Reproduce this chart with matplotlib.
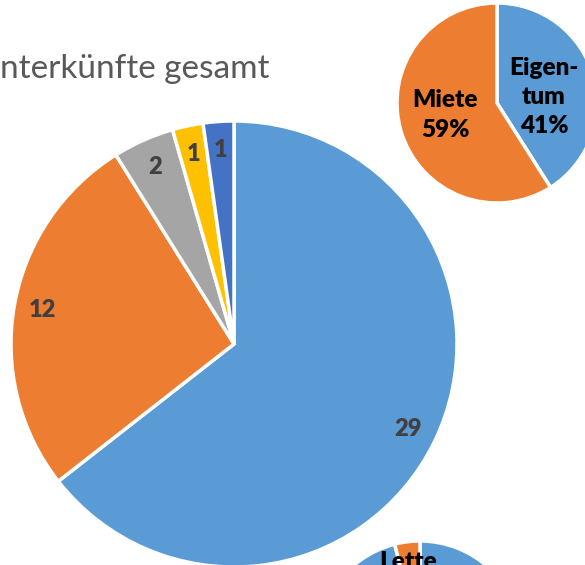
import matplotlib
matplotlib.use("Agg")
import matplotlib.pyplot as plt

plt.rcParams['font.family'] = ['Lato', 'DejaVu Sans']

W, H = 585, 565
DPI = 100

# Data
title_text = "nterkünfte gesamt"
main_values = [29, 12, 2, 1, 1]
main_labels = ["29", "12", "2", "1", "1"]
main_colors = ["#5B9BD5", "#ED7D31", "#A5A5A5", "#FFC000", "#4472C4"]

own_values = [41, 59]
own_labels = ["Eigen-\ntum\n41%", "Miete\n59%"]
own_colors = ["#5B9BD5", "#ED7D31"]

bottom_values = [96, 4]
bottom_colors = ["#5B9BD5", "#ED7D31"]
bottom_label = "Lette"

fig = plt.figure(figsize=(W / DPI, H / DPI), dpi=DPI)


def pie_axes(cx, cy, r):
    left = (cx - r) / W
    bottom = (H - (cy + r)) / H
    return fig.add_axes([left, bottom, 2 * r / W, 2 * r / H])


# Main pie
ax = pie_axes(234, 344, 223)
wedges, texts = ax.pie(main_values, colors=main_colors, startangle=90, counterclock=False,
                       labels=main_labels, labeldistance=0.87,
                       wedgeprops=dict(edgecolor="white", linewidth=2.5))
for t in texts:
    t.set_ha("center"); t.set_va("center")
    t.set_fontsize(17); t.set_fontweight("heavy"); t.set_color("#404040")
ax.set_xlim(-1, 1); ax.set_ylim(-1, 1)
ax.axis("off")

# Ownership pie
ax2 = pie_axes(497, 103, 100)
wedges2, texts2 = ax2.pie(own_values, colors=own_colors, startangle=90, counterclock=False,
                          labels=own_labels, labeldistance=0.5,
                          wedgeprops=dict(edgecolor="white", linewidth=2.5))
for t in texts2:
    t.set_ha("center"); t.set_va("center"); t.set_multialignment("center")
    t.set_fontsize(17.5); t.set_fontweight("heavy"); t.set_color("black")
    t.set_linespacing(1.4)
texts2[0].set_position((0.47, 0.06))
texts2[1].set_position((-0.52, -0.12))
ax2.set_xlim(-1, 1); ax2.set_ylim(-1, 1)
ax2.axis("off")

# Bottom pie (mostly cut off)
ax3 = pie_axes(420, 643, 102)
ax3.pie(bottom_values, colors=bottom_colors, startangle=90, counterclock=False,
        wedgeprops=dict(edgecolor="white", linewidth=2.5))
ax3.set_xlim(-1, 1); ax3.set_ylim(-1, 1)
ax3.axis("off")
fig.text(408 / W, 1 - 551 / H, bottom_label, ha="center", va="top",
         fontsize=17.5, fontweight="heavy", color="black")

# Title (cut off at left edge)
fig.text(0, 1 - 78 / H, title_text, ha="left", va="baseline",
         fontsize=24, color="#595959")

fig.savefig("out.png", dpi=DPI)
